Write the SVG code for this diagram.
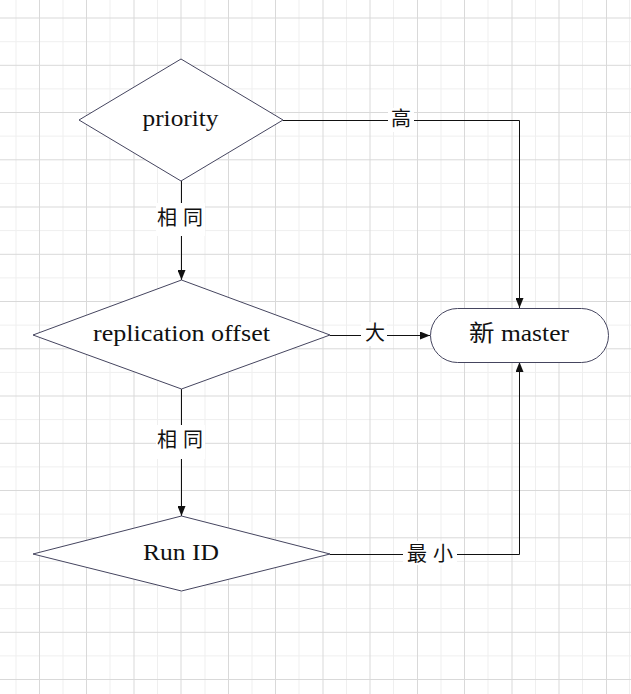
<svg xmlns="http://www.w3.org/2000/svg" width="631" height="694" viewBox="0 0 631 694">
<style>
.bg{fill:#ffffff}
.gmaj{stroke:#d9d9d9;stroke-width:1;fill:none}
.gmin{stroke:#efefef;stroke-width:1;fill:none}
.node{fill:#ffffff;stroke:#45455f;stroke-width:1}
.lbl{font-family:"Liberation Serif","Noto Sans CJK SC",serif;font-size:23px;fill:#111111;text-anchor:middle}
.edge{stroke:#111111;stroke-width:1;fill:none}
.elbl{font-family:"Noto Sans CJK SC","Noto Sans CJK JP",sans-serif;font-size:20px;fill:#111111;text-anchor:middle}
.lblbg{fill:#ffffff}
</style>
<defs>
<marker id="arr" markerUnits="userSpaceOnUse" markerWidth="10" markerHeight="8" refX="10" refY="4" orient="auto">
<path d="M0,0 L10,4 L0,8 z" fill="#111111"/>
</marker>
</defs>
<rect class="bg" x="0" y="0" width="631" height="694"/>
<g id="grid">
<path class="gmin" d="M16,0V694M63,0V694M110,0V694M157.5,0V694M205,0V694M252,0V694M299,0V694M346.5,0V694M393.5,0V694M441,0V694M488,0V694M535.5,0V694M582.5,0V694M629.5,0V694M0,41.7H631M0,88.9H631M0,136.1H631M0,183.4H631M0,230.6H631M0,277.9H631M0,325.1H631M0,372.4H631M0,419.6H631M0,466.9H631M0,514.1H631M0,561.4H631M0,608.6H631M0,655.9H631"/>
<path class="gmaj" d="M39.5,0V694M86.5,0V694M134,0V694M181,0V694M228.5,0V694M275.5,0V694M323,0V694M370,0V694M417.5,0V694M464.5,0V694M512,0V694M559,0V694M606.5,0V694M0,18H631M0,65.3H631M0,112.5H631M0,159.8H631M0,207H631M0,254.3H631M0,301.5H631M0,348.8H631M0,396H631M0,443.3H631M0,490.5H631M0,537.8H631M0,585H631M0,632.3H631M0,679.5H631"/>
</g>
<g id="connectors">
<path class="edge" d="M283,120.5H519.5V308" marker-end="url(#arr)"/>
<path class="edge" d="M181.5,181V280" marker-end="url(#arr)"/>
<path class="edge" d="M330,335.5H430" marker-end="url(#arr)"/>
<path class="edge" d="M181.5,389V516" marker-end="url(#arr)"/>
<path class="edge" d="M330,554.5H519.5V362" marker-end="url(#arr)"/>
<rect class="lblbg" x="388" y="108" width="26" height="24"/>
<text class="elbl" x="401" y="126">高</text>
<rect class="lblbg" x="156" y="203" width="49" height="33"/>
<text class="elbl" x="167 193" y="224.5">相同</text>
<rect class="lblbg" x="361" y="322" width="26" height="24"/>
<text class="elbl" x="375" y="340">大</text>
<rect class="lblbg" x="156" y="425" width="49" height="34"/>
<text class="elbl" x="167 193" y="447">相同</text>
<rect class="lblbg" x="403" y="541" width="54" height="24"/>
<text class="elbl" x="417 443" y="560.5">最小</text>
</g>
<g id="priority">
<polygon class="node" points="181,59 283,120 181,181 79,120"/>
<text class="lbl" x="180.5" y="126" textLength="76" lengthAdjust="spacingAndGlyphs">priority</text>
</g>
<g id="replication-offset">
<polygon class="node" points="181.5,280 330,335 181.5,389 33,335"/>
<text class="lbl" x="181.5" y="341" textLength="177" lengthAdjust="spacingAndGlyphs">replication offset</text>
</g>
<g id="run-id">
<polygon class="node" points="181.5,516 330,554 181.5,591 33,554"/>
<text class="lbl" x="181" y="560" textLength="76" lengthAdjust="spacingAndGlyphs">Run ID</text>
</g>
<g id="new-master">
<rect class="node" x="430.5" y="308.5" width="178" height="54" rx="27" ry="27"/>
<text class="lbl" x="519" y="341" textLength="100" lengthAdjust="spacingAndGlyphs">新 master</text>
</g>
</svg>
